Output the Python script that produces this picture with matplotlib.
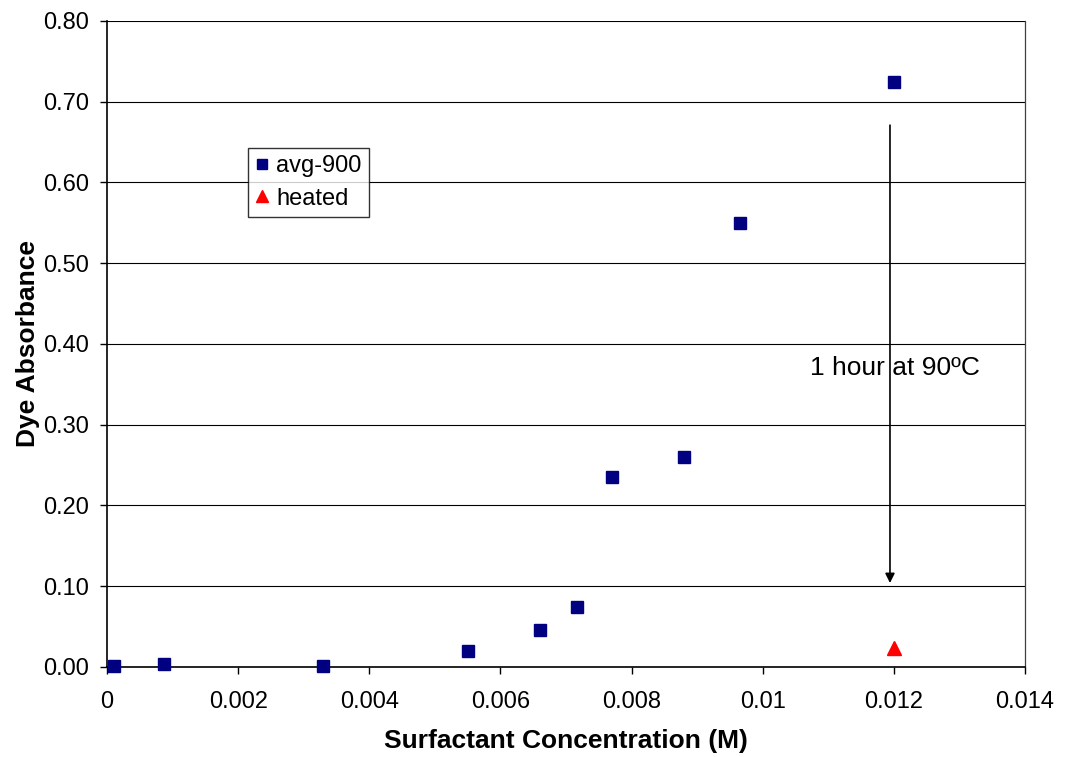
import matplotlib
matplotlib.use("Agg")
import matplotlib.pyplot as plt

plt.rcParams['font.family'] = ['Liberation Sans', 'DejaVu Sans']

# Surfactant concentration (M) and dye absorbance
conc_avg = [0.0001, 0.00087, 0.0033, 0.0055, 0.0066, 0.00716, 0.0077, 0.0088, 0.00966, 0.0120]
abs_avg = [0.001, 0.004, 0.001, 0.020, 0.046, 0.074, 0.235, 0.260, 0.550, 0.725]

conc_heated = [0.0120]
abs_heated = [0.023]

x_ticks = [0, 0.002, 0.004, 0.006, 0.008, 0.01, 0.012, 0.014]
x_tick_labels = ["0", "0.002", "0.004", "0.006", "0.008", "0.01", "0.012", "0.014"]
y_ticks = [0.0, 0.1, 0.2, 0.3, 0.4, 0.5, 0.6, 0.7, 0.8]
y_tick_labels = ["0.00", "0.10", "0.20", "0.30", "0.40", "0.50", "0.60", "0.70", "0.80"]

fig = plt.figure(figsize=(10.65, 7.57), dpi=100)
ax = fig.add_axes([0.1005, 0.1189, 0.8620, 0.8534])

ax.set_xlim(0, 0.014)
ax.set_ylim(0, 0.8)
ax.set_xticks(x_ticks)
ax.set_xticklabels(x_tick_labels)
ax.set_yticks(y_ticks)
ax.set_yticklabels(y_tick_labels)
ax.tick_params(axis='both', direction='out', length=5, width=1, labelsize=17, colors='black')
ax.tick_params(axis='y', pad=8)
ax.tick_params(axis='x', pad=12)

ax.yaxis.grid(True, color='black', linewidth=0.8)
ax.set_axisbelow(True)
for side in ['left', 'bottom']:
    ax.spines[side].set_linewidth(1.2)
ax.spines['top'].set_visible(False)
ax.spines['right'].set_color('#404040')
ax.spines['right'].set_linewidth(0.9)

ax.plot(conc_avg, abs_avg, linestyle='none', marker='s', markersize=9,
        color='#000080', label='avg-900', zorder=3, clip_on=False)
ax.plot(conc_heated, abs_heated, linestyle='none', marker='^', markersize=10,
        color='#ff0000', label='heated', zorder=3, clip_on=False)

# Heating arrow from unheated to heated sample
ax.annotate('', xy=(0.01194, 0.104), xytext=(0.01194, 0.671),
            arrowprops=dict(arrowstyle='-|>', color='black', lw=1.2,
                            mutation_scale=14, shrinkA=0, shrinkB=0))
ax.text(0.01202, 0.370, '1 hour at 90ºC', ha='center', va='center', fontsize=19)

ax.set_xlabel('Surfactant Concentration (M)', fontsize=19, fontweight='bold', labelpad=12)
ax.set_ylabel('Dye Absorbance', fontsize=19, fontweight='bold', labelpad=2)

leg = ax.legend(loc='upper left', bbox_to_anchor=(248 / 1065, 1 - 148 / 757),
                bbox_transform=fig.transFigure, fontsize=17, frameon=True,
                fancybox=False, edgecolor='black', handlelength=0.6,
                handletextpad=0.3, borderpad=0.3, labelspacing=0.45,
                borderaxespad=0, markerscale=0.85)
leg.get_frame().set_linewidth(1.0)

fig.savefig('out.png', dpi=100)
